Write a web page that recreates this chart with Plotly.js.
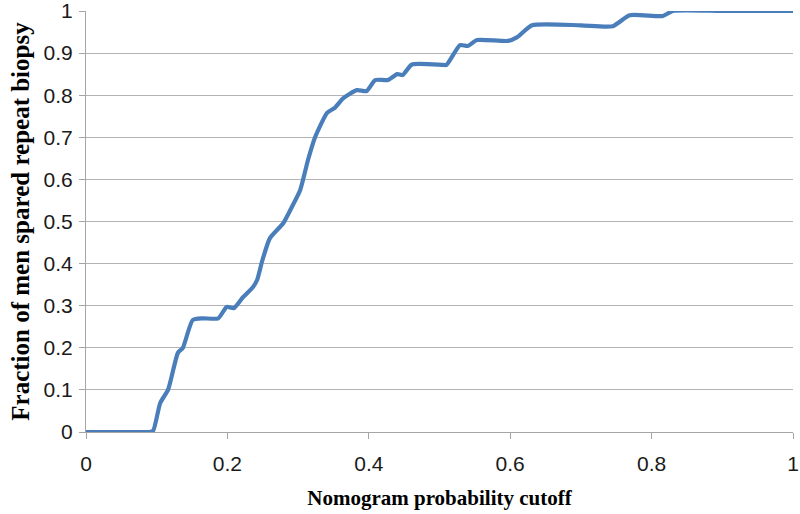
<!DOCTYPE html>
<html><head><meta charset="utf-8">
<script src="https://cdn.plot.ly/plotly-3.0.1.min.js"></script>
<style>html,body{margin:0;padding:0;background:#fff}#chart{width:800px;height:514px}</style>
</head><body><div id="chart"></div>
<script>
var cutoff = [0, 0.05, 0.09, 0.095, 0.105, 0.116, 0.130, 0.137, 0.151, 0.165, 0.187, 0.199, 0.209, 0.222, 0.236, 0.242, 0.249, 0.260, 0.279, 0.291, 0.303, 0.314, 0.324, 0.341, 0.352, 0.364, 0.383, 0.397, 0.409, 0.427, 0.440, 0.448, 0.461, 0.505, 0.510, 0.529, 0.540, 0.553, 0.597, 0.610, 0.631, 0.700, 0.745, 0.769, 0.816, 0.830, 0.900, 1.0];
var fraction = [0, 0, 0, 0.003, 0.069, 0.10, 0.188, 0.20, 0.266, 0.27, 0.27, 0.297, 0.294, 0.32, 0.344, 0.361, 0.405, 0.46, 0.496, 0.534, 0.575, 0.646, 0.70, 0.758, 0.77, 0.793, 0.812, 0.81, 0.836, 0.836, 0.85, 0.848, 0.873, 0.872, 0.872, 0.919, 0.917, 0.931, 0.929, 0.938, 0.966, 0.966, 0.964, 0.99, 0.988, 1.0, 1.0, 1.0];
var xTicks = [0, 0.2, 0.4, 0.6, 0.8, 1];
var xTickText = ['0', '0.2', '0.4', '0.6', '0.8', '1'];
var yTicks = [0, 0.1, 0.2, 0.3, 0.4, 0.5, 0.6, 0.7, 0.8, 0.9, 1];
var yTickText = ['0', '0.1', '0.2', '0.3', '0.4', '0.5', '0.6', '0.7', '0.8', '0.9', '1'];

var trace = {
  x: cutoff, y: fraction, mode: 'lines', type: 'scatter',
  line: {color: '#4a7ebb', width: 4.2, shape: 'spline', smoothing: 0.55},
  cliponaxis: false, hoverinfo: 'none'
};
var tickFont = {size: 21, family: 'Liberation Sans, Arial, sans-serif', color: '#1a1a1a'};
var layout = {
  width: 800, height: 514,
  margin: {l: 86, r: 7, t: 11, b: 82},
  paper_bgcolor: '#fff', plot_bgcolor: '#fff',
  showlegend: false,
  font: {family: 'Liberation Serif, serif', color: '#000', size: 17},
  xaxis: {
    range: [0, 1], tickvals: xTicks, ticktext: xTickText,
    showgrid: false, zeroline: false,
    showline: true, linecolor: '#a6a6a6', linewidth: 1,
    ticks: 'outside', ticklen: 6, tickcolor: '#a6a6a6',
    ticklabelstandoff: 7, ticklabeloverflow: 'allow',
    tickfont: tickFont,
    title: {text: 'Nomogram probability cutoff', font: {size: 21, family: 'Liberation Serif, serif', weight: 'bold'}, standoff: 16}
  },
  yaxis: {
    range: [0, 1], tickvals: yTicks, ticktext: yTickText,
    showgrid: true, gridcolor: '#b3b3b3', gridwidth: 1,
    zeroline: false,
    showline: true, linecolor: '#a6a6a6', linewidth: 1,
    ticks: 'outside', ticklen: 6, tickcolor: '#a6a6a6',
    ticklabelstandoff: 2, ticklabeloverflow: 'allow',
    tickfont: tickFont,
    title: {text: 'Fraction of men spared repeat biopsy', font: {size: 25, family: 'Liberation Serif, serif', weight: 'bold'}, standoff: 6}
  }
};
Plotly.newPlot('chart', [trace], layout, {staticPlot: true, displayModeBar: false});
</script></body></html>
